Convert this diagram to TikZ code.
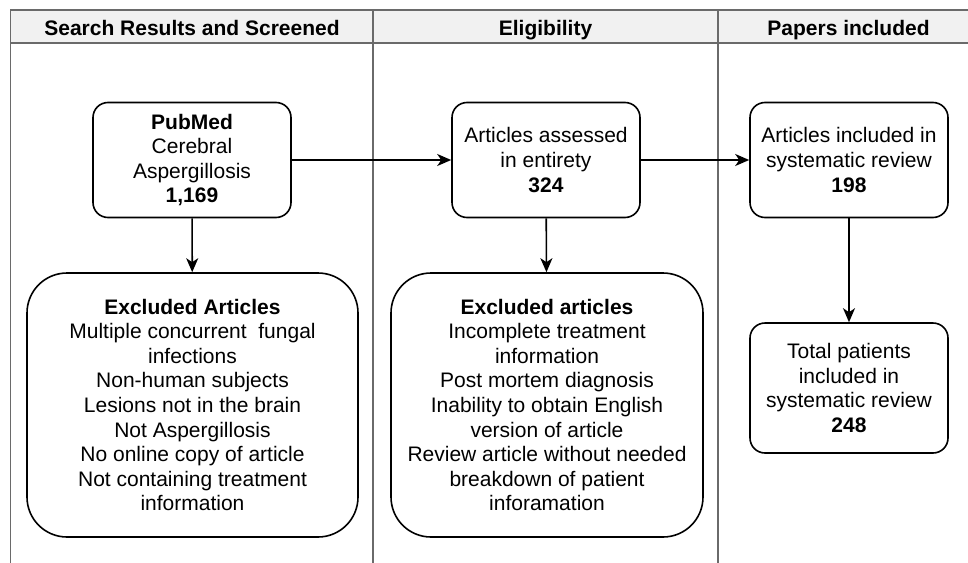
\documentclass[tikz,border=0pt]{standalone}
\usepackage{fontspec}
\setmainfont{Liberation Sans}
\usetikzlibrary{arrows.meta}
\definecolor{laneline}{HTML}{6A6A6A}
\definecolor{lanefill}{HTML}{F1F1F1}

\begin{document}
\begin{tikzpicture}[x=1pt,y=-1pt,
    box/.style={draw=black,line width=1.6pt,rounded corners=15pt,align=center,
      inner sep=0pt,font=\fontsize{21}{24.6}\selectfont},
    bigbox/.style={box,rounded corners=40pt,minimum width=#1,minimum height=264pt},
    lanetitle/.style={font=\fontsize{21}{24}\selectfont\bfseries,inner sep=0pt,anchor=base},
    flow/.style={-{Stealth[length=14pt,width=12pt,inset=4pt]},line width=1.6pt}]
  \useasboundingbox (0,0) rectangle (968,562);
  \fill[white] (0,0) rectangle (968,562);

  % swimlanes
  \draw[laneline,line width=1.8pt,fill=lanefill] (10.5,10) rectangle (990,43);
  \draw[laneline,line width=1.8pt] (10.5,43) -- (10.5,570);
  \draw[laneline,line width=1.8pt] (373,10) -- (373,570);
  \draw[laneline,line width=1.8pt] (718,10) -- (718,570);

  \node[lanetitle] (search) at (192,35) {Search Results and Screened};
  \node[lanetitle] (elig) at (545.5,35) {Eligibility};
  \node[lanetitle] (papers) at (848.5,35) {Papers included};

  % boxes
  \node[box,minimum width=198pt,minimum height=115pt] (pubmed) at (192,160)
    {\textbf{PubMed}\\Cerebral\\Aspergillosis\\\textbf{1,169}};
  \node[box,minimum width=188pt,minimum height=115pt] (assessed) at (546,160)
    {Articles assessed\\in entirety\\\textbf{324}};
  \node[box,minimum width=198pt,minimum height=115pt] (included) at (849,160)
    {Articles included in\\systematic review\\\textbf{198}};
  \node[box,minimum width=198pt,minimum height=130pt] (patients) at (849,388)
    {Total patients\\included in\\systematic review\\\textbf{248}};

  \node[bigbox=331pt] (exclone) at (192.5,405)
    {\textbf{Excluded Articles}\\Multiple concurrent \ fungal\\infections\\Non-human subjects\\
     Lesions not in the brain\\Not Aspergillosis\\No online copy of article\\
     Not containing treatment\\information};
  \node[bigbox=312pt] (excltwo) at (547,405)
    {\textbf{Excluded articles}\\Incomplete treatment\\information\\Post mortem diagnosis\\
     Inability to obtain English\\version of article\\Review article without needed\\
     breakdown of patient\\inforamation};

  % arrows
  \draw[flow] (pubmed) -- (assessed);
  \draw[flow] (assessed) -- (included);
  \draw[flow] (pubmed) -- (exclone);
  \draw[flow] (assessed) -- (excltwo);
  \draw[flow] (included) -- (patients);
\end{tikzpicture}
\end{document}
